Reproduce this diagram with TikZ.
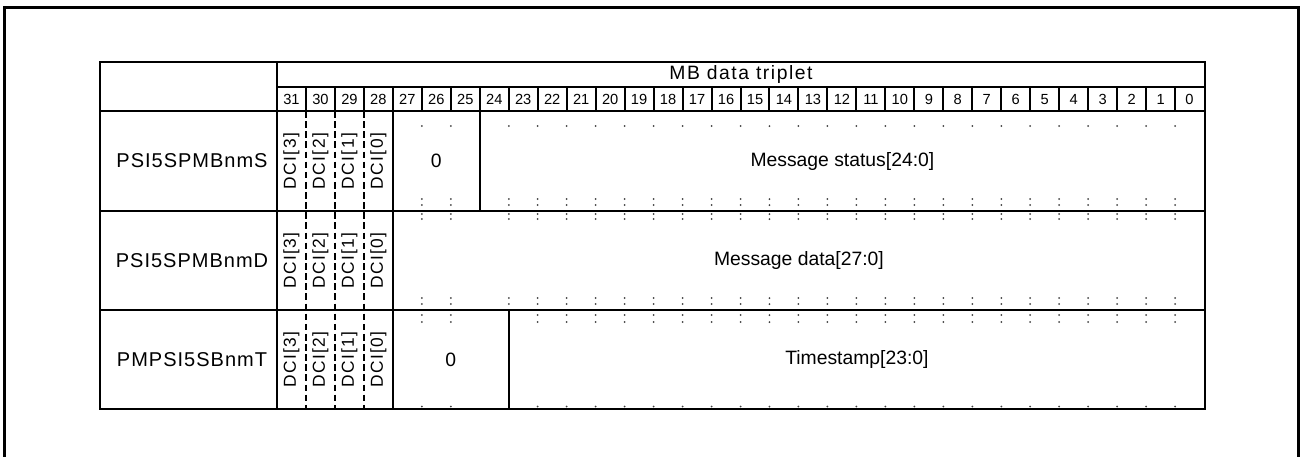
\documentclass[tikz,border=0pt]{standalone}
\usepackage{fontspec}
\setmainfont{Liberation Sans}
\newfontfamily\spaced[LetterSpace=5]{Liberation Sans}
\newfontfamily\wider[LetterSpace=8]{Liberation Sans}
\usetikzlibrary{positioning}
\newcommand{\bitw}{28.97}
\newcommand{\bitx}{277}

\begin{document}
\begin{tikzpicture}[x=0.75pt, y=-0.75pt,
  rule/.style={line width=1.5pt},
  dcisep/.style={line width=1.2pt, dash pattern=on 5pt off 2.6pt},
  bitno/.style={inner sep=0pt, font=\fontsize{11}{11}\selectfont},
  field/.style={inner sep=0pt, font=\fontsize{14.5}{14.5}\selectfont},
  regname/.style={inner sep=0pt, font=\spaced\fontsize{15}{15}\selectfont},
  dcibit/.style={inner sep=0pt, rotate=90, font=\wider\fontsize{13}{13}\selectfont},
  tick/.style={fill=black!75}]
  \useasboundingbox (0,0) rectangle (1300,457);
  \draw[line width=2.2pt] (4.5,470) -- (4.5,7.5) -- (1298.5,7.5) -- (1298.5,470);

  % table frame
  \draw[rule] (100,62) rectangle (1205,409);
  \draw[rule] (\bitx,62) -- (\bitx,409);
  \draw[rule] (\bitx,87) -- (1205,87);
  \foreach \y in {111,211,310}
    \draw[rule] (100,\y) -- (1205,\y);

  \node[inner sep=0pt, font=\wider\fontsize{14.5}{14.5}\selectfont] (hdr) at (741,74.5) {MB data triplet};

  % bit numbers
  \foreach \b in {0,...,31} {
    \pgfmathsetmacro\bx{\bitx+(31-\b+0.5)*\bitw}
    \node[bitno] (n\b) at (\bx,99.5) {\b};
  }
  \foreach \k in {1,...,31}
    \draw[rule] ({\bitx+\k*\bitw},87) -- ({\bitx+\k*\bitw},111);

  % register names and DCI bits
  \foreach \nm/\yc in {PSI5SPMBnmS/161, PSI5SPMBnmD/260.5, PMPSI5SBnmT/359.5} {
    \node[regname] (\nm) at (192,\yc) {\nm};
    \foreach \d in {3,2,1,0}
      \node[dcibit] (\nm-dci\d) at ({\bitx+(3-\d+0.5)*\bitw},\yc) {DCI[\d]};
  }
  \foreach \k in {1,2,3}
    \draw[dcisep] ({\bitx+\k*\bitw},111) -- ({\bitx+\k*\bitw},409);
  \draw[rule] ({\bitx+4*\bitw},111) -- ({\bitx+4*\bitw},409);
  \draw[rule] ({\bitx+7*\bitw},111) -- ({\bitx+7*\bitw},211);
  \draw[rule] ({\bitx+8*\bitw},310) -- ({\bitx+8*\bitw},409);

  % fields
  \node[field] (zS) at ({\bitx+5.5*\bitw},161) {0};
  \node[field] (msgS) at ({(\bitx+7*\bitw+1205)/2},161) {Message status[24:0]};
  \node[field] (msgD) at ({(\bitx+4*\bitw+1205)/2},260.5) {Message data[27:0]};
  \node[field] (zT) at ({\bitx+6*\bitw},359.5) {0};
  \node[field] (tsT) at ({(\bitx+8*\bitw+1205)/2},359.5) {Timestamp[23:0]};

  % dotted bit marks
  \foreach \k in {5,6,8,9,...,31} {
    \pgfmathsetmacro\dx{\bitx+\k*\bitw}
    \foreach \dy in {126,199,205,214,219,298,304}
      \fill[tick] (\dx,\dy) circle (1);
  }
  \foreach \k in {5,6,9,10,...,31} {
    \pgfmathsetmacro\dx{\bitx+\k*\bitw}
    \foreach \dy in {315,322,406.5}
      \fill[tick] (\dx,\dy) circle (1);
  }
\end{tikzpicture}
\end{document}
